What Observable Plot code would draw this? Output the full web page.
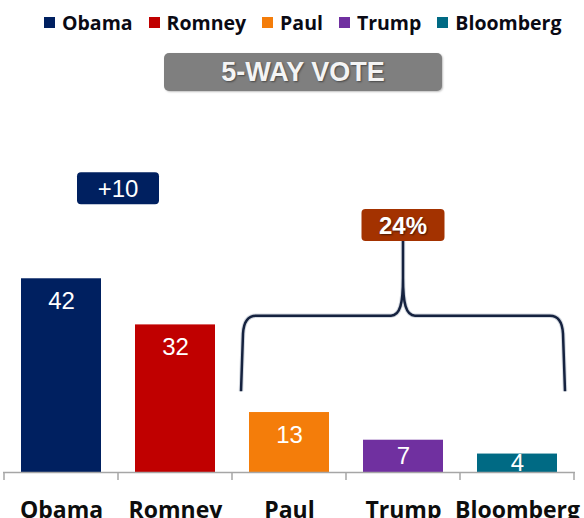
<!DOCTYPE html>
<html><head><meta charset="utf-8">
<script src="https://cdn.jsdelivr.net/npm/d3@7"></script>
<script src="https://cdn.jsdelivr.net/npm/@observablehq/plot@0.6"></script>
<style>
body{margin:0;background:#fff;width:584px;height:518px;overflow:hidden;position:relative;font-family:"Open Sans",sans-serif}
#legend{position:absolute;left:44px;top:10px;height:24px;display:flex;align-items:center;font-weight:700;font-size:19.5px;color:#0a0a14;white-space:nowrap}
#legend .item{display:flex;align-items:center;margin-right:16px}
#legend .sw{width:11px;height:11px;margin-right:7px}
#title{position:absolute;left:164px;top:53px;width:278px;height:38px;background:#7f7f7f;border-radius:5px;color:#f4f4f4;font:bold 27px "Liberation Sans",Arial,sans-serif;display:flex;align-items:center;justify-content:center;text-shadow:1px 1px 2px rgba(0,0,0,.45);box-shadow:1px 1px 2px rgba(0,0,0,.25)}
#chart{position:absolute;left:0;top:100px}
</style></head><body>
<div id="legend"></div>
<div id="title"></div>
<div id="chart"></div>
<script>
const candidates = ["Obama", "Romney", "Paul", "Trump", "Bloomberg"];
const votes = [42, 32, 13, 7, 4];
const colors = ["#002060", "#C00000", "#F47D0A", "#7030A0", "#006A84"];
const titleText = "5-WAY VOTE";

const data = candidates.map((name, i) => ({name, value: votes[i]}));

// legend
const legend = d3.select("#legend");
candidates.forEach((c, i) => {
  const it = legend.append("div").attr("class", "item");
  it.append("div").attr("class", "sw").style("background", colors[i]);
  it.append("span").text(c);
});
d3.select("#title").text(titleText);

function boundaries(index, {x, y}) {
  const bw = x.bandwidth(), step = x.step();
  const g = d3.create("svg:g").attr("stroke", "#a6a6a6").attr("stroke-width", 1.5);
  const y0 = y(0);
  const half = (step - bw) / 2;
  const edges = candidates.map(c => x(c) - half).concat([x(candidates[candidates.length - 1]) + bw + half]);
  for (const e of edges) g.append("line").attr("x1", e).attr("x2", e).attr("y1", y0).attr("y2", y0 + 8);
  return g.node();
}

function box(g, cx, cy, w, h, fill, label, bold) {
  g.append("rect").attr("x", cx - w / 2).attr("y", cy - h / 2).attr("width", w).attr("height", h)
    .attr("rx", 4).attr("fill", fill);
  g.append("text").attr("x", cx).attr("y", cy).attr("dy", "0.36em").attr("text-anchor", "middle")
    .attr("fill", "white").attr("font-size", 24).attr("font-family", "'Liberation Sans', Arial, sans-serif")
    .attr("font-weight", bold ? "bold" : "normal")
    .style("text-shadow", bold ? "1px 1px 2px rgba(0,0,0,0.55)" : "none")
    .text(label);
}

function annotations(index, {x, y}) {
  const bw = x.bandwidth();
  const cx = c => x(c) + bw / 2;
  const g = d3.create("svg:g");
  // lead box between the two leaders
  const lead = votes[0] - votes[1];
  box(g, (cx(candidates[0]) + cx(candidates[1])) / 2, y(61.5), bw + 2, 32, "#002060", "+" + lead, false);
  // brace over the other candidates
  const others = d3.sum(votes.slice(2));
  const bx = cx(candidates[3]), by = y(53.55);
  const left = x(candidates[2]) - 8, right = x(candidates[4]) + bw + 8;
  const yTop = by + 16, yMid = y(33.9), yBot = y(17.5);
  const side = (s) => {
    const d = s < bx ? 1 : -1;
    return `M${s},${yBot} L${s + 2 * d},${yMid + 18} Q${s + 3 * d},${yMid} ${s + 15 * d},${yMid} L${bx - 12 * d},${yMid} C${bx - 3 * d},${yMid} ${bx},${yMid - 12} ${bx},${yMid - 38} L${bx},${yTop}`;
  };
  g.append("path").attr("d", side(left) + " " + side(right)).attr("fill", "none")
    .attr("stroke", "#b8c0cc").attr("stroke-width", 4.5).attr("stroke-linejoin", "round").attr("opacity", 0.6);
  g.append("path").attr("d", side(left) + " " + side(right)).attr("fill", "none")
    .attr("stroke", "#15223f").attr("stroke-width", 2.5).attr("stroke-linejoin", "round");
  box(g, bx, by, bw + 3, 32, "#A33200", others + "%", true);
  return g.node();
}

const plot = Plot.plot({
  width: 584, height: 418,
  marginTop: 3, marginBottom: 46, marginLeft: 3, marginRight: 9,
  style: {fontFamily: "'Open Sans', sans-serif", background: "transparent", overflow: "visible"},
  x: {domain: candidates, paddingInner: 0.3, paddingOuter: 0.15, label: null},
  y: {domain: [0, 80], axis: null},
  color: {domain: candidates, range: colors},
  marks: [
    Plot.barY(data, {x: "name", y: "value", fill: "name"}),
    Plot.ruleY([0], {stroke: "#a6a6a6", strokeWidth: 1.5}),
    boundaries,
    Plot.text(data, {x: "name", y: d => d.value - Math.min(4.88, d.value / 2), text: d => String(d.value),
      fill: "white", fontSize: 24, fontFamily: "'Liberation Sans', Arial, sans-serif", lineAnchor: "middle"}),
    Plot.axisX({tickSize: 0, tickPadding: 29, fontSize: 23, fontWeight: 700, color: "#0d0d0d", label: null}),
    annotations
  ]
});
document.getElementById("chart").appendChild(plot);
</script>
</body></html>
